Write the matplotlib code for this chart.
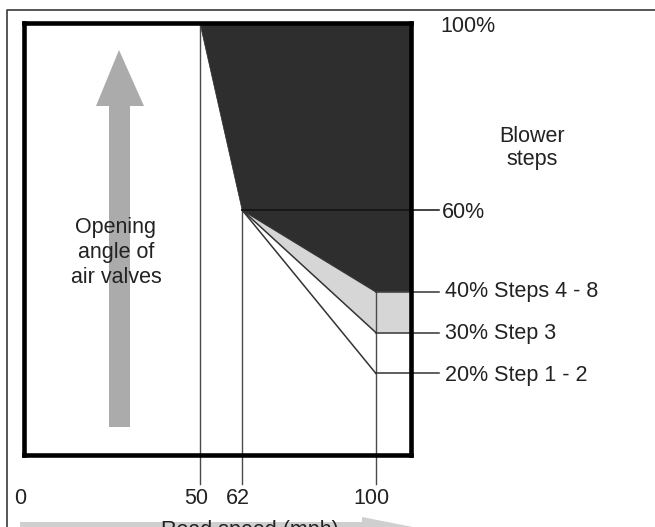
import numpy as np
import matplotlib
matplotlib.use("Agg")
import matplotlib.pyplot as plt
from matplotlib.patches import Polygon
from matplotlib.lines import Line2D
import matplotlib.transforms as mtransforms

plt.rcParams['font.family'] = ['Liberation Sans', 'DejaVu Sans']

# ---- data ----
speed_ticks = [0, 50, 62, 100]
speed_labels = ["0", "50", "62", "100"]
start_speed = 50          # valves begin to close
knee_speed = 62           # knee point
end_speed = 100           # final speed
full_open = 100           # %
knee_open = 60            # %
step_levels = [40, 30, 20]  # % at end_speed
step_labels = ["40% Steps 4 - 8", "30% Step 3", "20% Step 1 - 2"]
x_max = 110
x_label_end = 118

W, H = 655, 527
fig = plt.figure(figsize=(W / 100, H / 100), dpi=100)

def fx(x):
    return x / W

def fy(y):
    return 1 - y / H

ax_l, ax_r, ax_t, ax_b = 24, 411, 23, 455
ax = fig.add_axes([fx(ax_l), fy(ax_b), (ax_r - ax_l) / W, (ax_b - ax_t) / H])

k = 1.145
def fwd(y):
    y = np.asarray(y, dtype=float)
    return np.where(y <= 60, y, 60 + (y - 60) * k)

def inv(f):
    f = np.asarray(f, dtype=float)
    return np.where(f <= 60, f, 60 + (f - 60) / k)

ax.set_yscale('function', functions=(fwd, inv))
ax.set_xlim(0, x_max)
ax.set_ylim(0, full_open)
ax.set_xticks([])
ax.set_yticks([])
ax.minorticks_off()
for s in ax.spines.values():
    s.set_linewidth(3.3)
    s.set_color('black')
    s.set_zorder(10)

dark = '#2e2e2e'
light = '#d6d6d6'
lc = '#4a4a4a'

# dark region
dark_poly = [(start_speed, full_open), (x_max, full_open), (x_max, step_levels[0]),
             (end_speed, step_levels[0]), (knee_speed, knee_open)]
ax.add_patch(Polygon(dark_poly, closed=True, facecolor=dark, edgecolor=dark, lw=0.5, zorder=2))
# light gray region
light_poly = [(knee_speed, knee_open), (end_speed, step_levels[0]), (x_max, step_levels[0]),
              (x_max, step_levels[1]), (end_speed, step_levels[1])]
ax.add_patch(Polygon(light_poly, closed=True, facecolor=light, edgecolor='none', zorder=2))

y_low = -7.1
# vertical lines
ax.plot([start_speed, start_speed], [full_open, y_low], color=lc, lw=1.0, clip_on=False, zorder=3)
ax.plot([knee_speed, knee_speed], [knee_open, y_low], color=lc, lw=1.0, clip_on=False, zorder=3)
ax.plot([end_speed, end_speed], [step_levels[0], y_low], color=lc, lw=1.0, clip_on=False, zorder=3)

# diagonal lines
for lv in step_levels:
    ax.plot([knee_speed, end_speed], [knee_open, lv], color='#333333', lw=1.1, zorder=4)
    ax.plot([end_speed, x_label_end], [lv, lv], color='#333333', lw=1.1, clip_on=False, zorder=4)
ax.plot([knee_speed, x_label_end], [knee_open, knee_open], color='#111111', lw=1.1,
        clip_on=False, zorder=4)

fs = 15.5
tc = '#222222'
# x labels
blend = mtransforms.blended_transform_factory(ax.transData, fig.transFigure)
for xv, lab in zip(speed_ticks, speed_labels):
    ax.annotate(lab, xy=(xv, fy(504)), xycoords=blend, xytext=(-4, 0),
                textcoords='offset pixels', ha='center', va='baseline',
                fontsize=fs, color=tc, annotation_clip=False)

# right labels
fig.text(fx(440), fy(32), "100%", fontsize=fs, color=tc, ha='left', va='baseline')
fig.text(fx(442), fy(218), "60%", fontsize=fs, color=tc, ha='left', va='baseline')
for lab, base in zip(step_labels, [297, 339, 381]):
    fig.text(fx(445), fy(base), lab, fontsize=fs, color=tc, ha='left', va='baseline')
fig.text(fx(532), fy(142), "Blower", fontsize=fs, color=tc, ha='center', va='baseline')
fig.text(fx(532), fy(165), "steps", fontsize=fs, color=tc, ha='center', va='baseline')

# vertical gray arrow
arrow_pts = [(109, 427), (130, 427), (130, 106), (144, 106), (119, 50), (96, 106), (109, 106)]
fig.patches.append(Polygon([(fx(a), fy(b)) for a, b in arrow_pts], closed=True,
                           transform=fig.transFigure, facecolor='#ababab', edgecolor='none',
                           zorder=3))
for lab, base in zip(["Opening", "angle of", "air valves"], [233, 258, 283]):
    fig.text(fx(116), fy(base), lab, fontsize=fs, color=tc, ha='center', va='baseline', zorder=5)

# bottom gray arrow
barrow = [(20, 522), (362, 522), (362, 517), (438, 532), (362, 547), (362, 542), (20, 542)]
fig.patches.append(Polygon([(fx(a), fy(b)) for a, b in barrow], closed=True,
                           transform=fig.transFigure, facecolor='#cfcfcf', edgecolor='none',
                           zorder=1))
fig.text(fx(250), fy(520), "Road speed (mph)", fontsize=fs, color=tc, ha='center', va='top')

# outer frame
fig.lines.append(Line2D([fx(6.5), fx(6.5), fx(W + 5)], [fy(H + 5), fy(10), fy(10)],
                        transform=fig.transFigure, color='#3a3a3a', lw=1.2))

fig.savefig("out.png", dpi=100)
